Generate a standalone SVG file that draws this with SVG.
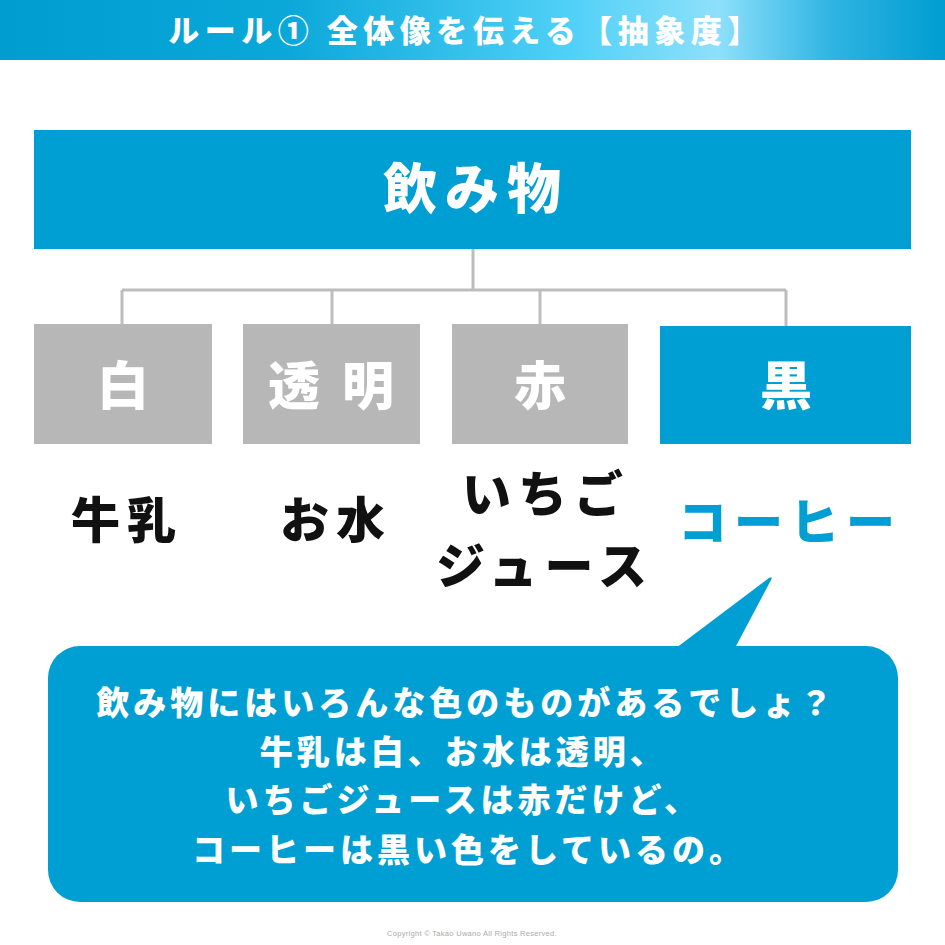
<svg xmlns="http://www.w3.org/2000/svg" width="945" height="945" viewBox="0 0 945 945">
<defs>
<linearGradient id="hdr" x1="0" y1="0" x2="1" y2="0">
<stop offset="0" stop-color="#009dd1"/>
<stop offset="0.3" stop-color="#0aa7d9"/>
<stop offset="0.6" stop-color="#4fd0f7"/>
<stop offset="0.76" stop-color="#8ee0fb"/>
<stop offset="0.88" stop-color="#2fb4e2"/>
<stop offset="1" stop-color="#009dd1"/>
</linearGradient>
<style>
.t{font-family:"Noto Sans CJK JP","Noto Sans CJK SC",sans-serif;font-weight:900;text-anchor:middle}
.w{fill:#ffffff}
.k{fill:#111111}
.b{fill:#009fd3}
.g{fill:#b7b7b7}
.line{stroke:#bdbdbd;stroke-width:3;fill:none}
.lab{font-size:49px;letter-spacing:7px}
</style>
</defs>
<rect width="945" height="945" fill="#ffffff"/>
<g id="header">
<rect x="0" y="0" width="945" height="60" fill="url(#hdr)"/>
<text class="t w" x="466" y="42" font-size="31" letter-spacing="5.5">ルール① 全体像を伝える【抽象度】</text>
</g>
<g id="connectors">
<path class="line" d="M473 249 V290 M122 290 H786 M122 290 V324 M332 290 V324 M540 290 V324 M786 290 V326"/>
</g>
<g id="drinks">
<rect class="b" x="34" y="130" width="877" height="119"/>
<text class="t w" x="476" y="209" font-size="54" letter-spacing="8">飲み物</text>
</g>
<g id="white">
<rect class="g" x="34" y="324" width="178" height="120"/>
<text class="t w" x="123" y="405" font-size="52">白</text>
</g>
<g id="clear">
<rect class="g" x="243" y="324" width="177" height="120"/>
<text class="t w" x="342" y="405" font-size="52" letter-spacing="22">透明</text>
</g>
<g id="red">
<rect class="g" x="452" y="324" width="176" height="120"/>
<text class="t w" x="540" y="405" font-size="52">赤</text>
</g>
<g id="black">
<rect class="b" x="660" y="326" width="251" height="118"/>
<text class="t w" x="786" y="405" font-size="52">黒</text>
</g>
<g id="milk">
<text class="t k lab" x="127" y="538">牛乳</text>
</g>
<g id="water">
<text class="t k lab" x="336" y="538">お水</text>
</g>
<g id="juice">
<text class="t k lab" x="546" y="512" letter-spacing="11">いちご</text>
<text class="t k lab" x="545" y="584">ジュース</text>
</g>
<g id="coffee">
<text class="t b lab" x="790" y="540">コーヒー</text>
</g>
<g id="bubble">
<rect class="b" x="48" y="646" width="850" height="256" rx="32"/>
<path class="b" d="M676 648 L769 578 Q773 576 771 580 L735 648 Z"/>
<text class="t w" font-size="33" letter-spacing="4">
<tspan x="472" y="715">飲み物にはいろんな色のものがあるでしょ？</tspan>
<tspan x="469" y="764">牛乳は白、お水は透明、</tspan>
<tspan x="469" y="812">いちごジュースは赤だけど、</tspan>
<tspan x="469" y="862">コーヒーは黒い色をしているの。</tspan>
</text>
</g>
<g id="copyright">
<text x="472" y="936" font-family="Liberation Sans, sans-serif" font-size="7.5" fill="#aaaaaa" text-anchor="middle" letter-spacing="0.3">Copyright © Takao Uwano All Rights Reserved.</text>
</g>
</svg>
